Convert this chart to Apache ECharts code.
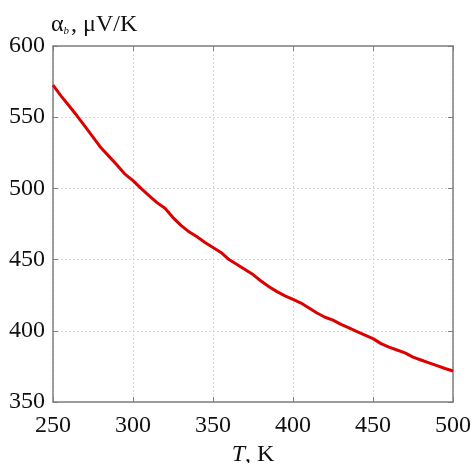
<!DOCTYPE html>
<html>
<head>
<meta charset="utf-8">
<script src="https://cdn.jsdelivr.net/npm/echarts@6/dist/echarts.min.js"></script>
<style>
  html, body { margin: 0; padding: 0; background: #fff; }
  #chart { width: 475px; height: 463px; }
</style>
</head>
<body>
<div id="chart"></div>
<script>
// temperature, K
const temps = [250, 255, 260, 265, 270, 275, 280, 285, 290, 295,
  300, 305, 310, 315, 320, 325, 330, 335, 340, 345,
  350, 355, 360, 365, 370, 375, 380, 385, 390, 395,
  400, 405, 410, 415, 420, 425, 430, 435, 440, 445,
  450, 455, 460, 465, 470, 475, 480, 485, 490, 495, 500]
// thermopower alpha_b, uV/K
const alphaB = [572.5, 565, 558, 551, 543.5, 536, 528.5, 522.5, 516.5, 510,
  505.5, 500, 495, 490, 486, 479.5, 474, 469.5, 466, 462,
  458.5, 455, 450, 446.5, 443, 439.5, 435, 431, 427.5, 424.5,
  422, 419.5, 416, 412.5, 409.5, 407.5, 404.5, 402, 399.5, 397,
  394.5, 391, 388.5, 386.5, 384.5, 381.5, 379.5, 377.5, 375.5, 373.5, 371.8]

const font = '"Liberation Serif", "Times New Roman", serif'
const axisColor = '#7f7f7f'

const chart = echarts.init(document.getElementById('chart'))

const gridLine = { show: true, lineStyle: { color: '#d8d8d8', type: [2, 2], width: 1 } }

chart.setOption({
  animation: false,
  backgroundColor: '#fff',
  grid: { left: 53, right: 22, top: 46, bottom: 61, containLabel: false, outerBoundsMode: 'none' },
  xAxis: [
    {
      type: 'value', min: 250, max: 500, interval: 50,
      name: '{i|T}, K', nameLocation: 'middle', nameGap: 38,
      nameTextStyle: {
        fontFamily: font, fontSize: 24, color: '#111',
        rich: { i: { fontFamily: font, fontSize: 24, fontStyle: 'italic', color: '#111' } }
      },
      axisLine: { lineStyle: { color: axisColor, width: 1.5 } },
      axisTick: { inside: true, length: 5, lineStyle: { color: axisColor } },
      axisLabel: { fontFamily: font, fontSize: 24, color: '#111', margin: 12 },
      splitLine: gridLine
    },
    {
      type: 'value', min: 250, max: 500, interval: 50, position: 'top',
      axisLine: { show: true, lineStyle: { color: axisColor, width: 1.5 } },
      axisTick: { inside: true, length: 5, lineStyle: { color: axisColor } },
      axisLabel: { show: false },
      splitLine: { show: false }
    }
  ],
  yAxis: [
    {
      type: 'value', min: 350, max: 600, interval: 50,
      name: '{a|α}{b|b}{c|, μV/K}', nameLocation: 'end', nameGap: 9,
      nameTextStyle: {
        align: 'left', padding: [0, 0, 0, -2],
        rich: {
          a: { fontFamily: font, fontSize: 24, color: '#111' },
          b: { fontFamily: font, fontSize: 11, fontStyle: 'italic', color: '#111', verticalAlign: 'bottom', padding: [10, 2, 0, 0] },
          c: { fontFamily: font, fontSize: 24, color: '#111' }
        }
      },
      axisLine: { show: true, lineStyle: { color: axisColor, width: 1.5 } },
      axisTick: { show: true, inside: true, length: 5, lineStyle: { color: axisColor } },
      axisLabel: { fontFamily: font, fontSize: 24, color: '#111', margin: 8 },
      splitLine: gridLine
    },
    {
      type: 'value', min: 350, max: 600, interval: 50, position: 'right',
      axisLine: { show: true, lineStyle: { color: axisColor, width: 1.5 } },
      axisTick: { show: true, inside: true, length: 5, lineStyle: { color: axisColor } },
      axisLabel: { show: false },
      splitLine: { show: false }
    }
  ],
  series: [{
    type: 'line',
    data: temps.map((t, i) => [t, alphaB[i]]),
    showSymbol: false,
    lineStyle: { color: '#dd0000', width: 3 }
  }]
})
</script>
</body>
</html>
